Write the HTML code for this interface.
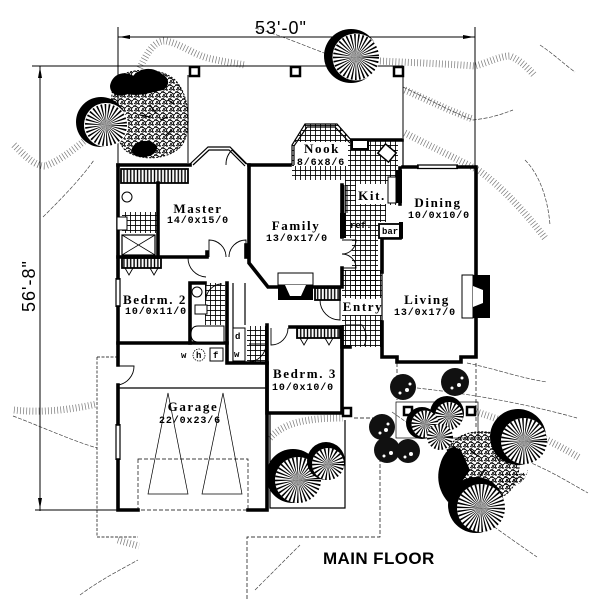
<!DOCTYPE html>
<html><head><meta charset="utf-8"><style>
html,body{margin:0;padding:0;background:#fff;}
svg{display:block;}
.n{font-family:"Liberation Serif",serif;font-weight:bold;font-size:13px;letter-spacing:1.6px;}
.d{font-family:"Liberation Mono",monospace;font-weight:bold;font-size:10px;letter-spacing:0.9px;}
.s{font-family:"Liberation Mono",monospace;font-weight:bold;font-size:9px;}
.big{font-family:"Liberation Sans",sans-serif;font-size:18px;letter-spacing:1px;}
</style></head><body>
<svg width="600" height="599" viewBox="0 0 600 599" xmlns="http://www.w3.org/2000/svg">
<defs>
<pattern id="tile" width="5" height="5" patternUnits="userSpaceOnUse">
<path d="M0 0.4H5M0.4 0V5" stroke="#000" stroke-width="0.9" fill="none"/>
</pattern>
<pattern id="cl" width="3.4" height="14" patternUnits="userSpaceOnUse">
<path d="M1.5 0V14" stroke="#000" stroke-width="1.4"/>
</pattern>
<pattern id="leaf" width="7" height="7" patternUnits="userSpaceOnUse">
<path d="M0 2 q2 -2 4 0 q2 2 3 0 M1 5 q2 2 4 0 M5 3 l1 3 M2 0 l1 2" stroke="#000" stroke-width="0.9" fill="none"/>
<circle cx="3" cy="4" r="1" fill="#000"/><circle cx="6" cy="6" r="0.9" fill="#000"/><circle cx="1" cy="1" r="0.7" fill="#000"/>
</pattern>
</defs>

<!-- landscape contours -->
<g fill="none">
<g stroke="#777" stroke-width="7" stroke-dasharray="0.7 2.4">
<path d="M140 68 C148 50 156 40 166 41 C182 44 195 56 212 59 C225 62 235 63 245 65"/>
<path d="M380 61 C420 63 450 64 475 66 C490 62 500 56 510 56 C520 60 528 68 535 76"/>
<path d="M405 133 C430 146 455 158 478 170 C500 185 525 212 545 238"/>
<path d="M14 145 C25 156 35 166 45 166 C62 160 78 146 100 128"/>
<path d="M14 410 C40 413 70 410 97 404"/>
<path d="M270 438 C282 425 300 418 343 418"/>
<path d="M470 410 C520 425 555 443 580 458"/>
<path d="M405 90 C430 101 452 112 473 119"/>
<path d="M118 540 C124 542 132 544 139 546"/>
</g>
<g stroke="#444" stroke-width="0.7" stroke-dasharray="4 1.5">
<path d="M255 28 C280 35 305 46 327 54"/>
<path d="M403 87 C430 100 452 112 473 120 C490 118 500 115 513 110"/>
<path d="M43 217 C60 200 80 180 94 160"/>
<path d="M13 416 C40 426 70 440 97 448"/>
<path d="M467 363 C500 370 520 378 547 382"/>
<path d="M417 388 C480 395 530 405 577 418"/>
<path d="M517 457 C550 470 570 483 588 493"/>
<path d="M485 520 C505 535 520 545 537 557"/>
<path d="M392 412 C420 432 440 445 458 457"/>
<path d="M80 595 C100 580 120 570 138 560"/>
<path d="M255 590 C275 570 285 560 300 545"/>
<path d="M525 160 C540 175 548 200 550 225"/>
<path d="M540 45 C555 55 565 65 575 72"/>
</g>
</g>

<!-- dimension lines -->
<g stroke="#000" stroke-width="1" fill="none">
<line x1="118" y1="37" x2="475" y2="37"/>
<line x1="118" y1="27" x2="118" y2="163"/>
<line x1="475" y1="27" x2="475" y2="166"/>
<line x1="32" y1="66" x2="403" y2="66"/>
<line x1="40" y1="66" x2="40" y2="511"/>
<line x1="35" y1="510" x2="118" y2="510"/>
<line x1="188" y1="75" x2="188" y2="163"/>
<line x1="403" y1="75" x2="403" y2="138"/>
</g>
<g fill="#000">
<path d="M119 37 L130 35 L130 39Z"/>
<path d="M474 37 L463 35 L463 39Z"/>
<path d="M40 67 L38 78 L42 78Z"/>
<path d="M40 509 L38 498 L42 498Z"/>
</g>
<text x="255" y="34" class="big">53'-0"</text>
<text transform="translate(35,312) rotate(-90)" class="big">56'-8"</text>

<!-- porch columns -->
<g fill="#fff" stroke="#000" stroke-width="2.5">
<rect x="190" y="67" width="9" height="9"/>
<rect x="291" y="67" width="9" height="9"/>
<rect x="394" y="67" width="9" height="9"/>
<rect x="343" y="408" width="8" height="8"/>
<rect x="404" y="407" width="8" height="8"/>
<rect x="467" y="407" width="8" height="8"/>
</g>

<!-- tile floors -->
<g fill="url(#tile)">
<polygon points="292,180 292,145 305,124 337,124 352,141 398,141 398,205 386,205 386,222 378,222 378,300 352,300 352,238 345,238 345,180"/>
<rect x="342" y="270" width="40" height="28"/>
<rect x="342" y="315" width="40" height="32"/>
<rect x="122" y="212" width="35" height="21"/>
<rect x="205" y="283" width="20" height="42"/>
<rect x="247" y="326" width="20" height="37"/>
</g>
<g fill="#fff">
<rect x="294" y="142" width="54" height="24"/>
<rect x="356" y="184" width="32" height="20"/>
<rect x="342" y="299" width="40" height="15"/>
</g>

<!-- closets -->
<g fill="url(#cl)" stroke="#000" stroke-width="1.8">
<rect x="121" y="169" width="67" height="14"/>
<rect x="122" y="258" width="39" height="10"/>
<rect x="297" y="328" width="43" height="10"/>
<rect x="315" y="288" width="25" height="12"/>
</g>
<g fill="none" stroke="#000" stroke-width="0.9">
<path d="M125 268 l4 7 l4 -7 M150 268 l4 7 l4 -7"/>
<path d="M300 338 l4 7 l4 -7 M325 338 l4 7 l4 -7"/>
</g>

<!-- walls -->
<g stroke="#000" stroke-width="3.6" fill="none" stroke-linecap="square">
<path d="M118 165 V278 M118 307 V365 M118 385 V424 M118 460 V510 H138"/>
<path d="M248 510 H267 V363"/>
<path d="M118 165 H190"/>
<path d="M249 165 V263 L268 287 H278"/>
<path d="M249 165 H290"/>
<path d="M352 140 H402"/>
<path d="M403 167 H417 M458 167 H476 V275 M476 318 V357 H461 V362 H397 V357 H382 V322"/>
<path d="M382 272 V238 H400"/>
<path d="M400 168 V204"/>
<path d="M342 185 V237 M342 268 V287 H313"/>
<path d="M342 327 V347 H350"/>
<path d="M267 325 V413 H342 V327 H290"/>
<path d="M118 257 H207 M207 257 V252"/>
<path d="M118 343 H227"/>
<path d="M227 283 V363 H267"/>
<path d="M190 283 V343 M190 283 H205"/>
<path d="M158 183 V257"/>
<path d="M246 257 V245"/>
</g>
<g stroke="#000" stroke-width="1.2" fill="none">
<path d="M382 272 V322"/>
<path d="M403 139 V167"/>
<path d="M118 388 H267"/>
<path d="M233 283 V363 M245 283 V325"/>
<path d="M292 165 V145 L305 124 L337 124 L352 141"/>
<path d="M294 165 V146 L307 127 L335 127 L350 143"/>
<path d="M190 164 L208 147 L230 147 L248 165"/>
<path d="M193 165 L209 150 L229 150 L245 166"/>
<path d="M417 165 H458 M417 168.5 H458"/>
<path d="M116 278 V307 M120 278 V307"/>
<path d="M116 424 V460 M120 424 V460"/>
<path d="M270 413 V508 H345 V420"/>
</g>
<!-- fireplaces -->
<rect x="278" y="273" width="35" height="12" fill="#fff" stroke="#000" stroke-width="1"/>
<rect x="278" y="285" width="35" height="15" fill="#000"/>
<polygon points="285,285 306,285 301,296 290,296" fill="#fff"/>
<rect x="462" y="275" width="11" height="43" fill="#fff" stroke="#000" stroke-width="1"/>
<rect x="473" y="275" width="17" height="43" fill="#000"/>
<polygon points="473,286 483,290 483,303 473,307" fill="#fff"/>

<!-- kitchen fixtures -->
<rect x="340" y="213" width="6" height="25" fill="#000"/>
<path d="M344 185 V213 M347 185 V213" stroke="#000" stroke-width="1"/>
<rect x="396" y="170" width="6" height="33" fill="#000"/>
<rect x="388" y="177" width="8" height="26" fill="#fff" stroke="#000" stroke-width="1"/>
<rect x="352" y="140" width="16" height="9" fill="#fff" stroke="#000" stroke-width="2"/>
<rect x="380" y="147" width="14" height="12" fill="#fff" stroke="#000" stroke-width="1.5" transform="rotate(40 387 153)"/>
<rect x="379" y="224" width="23" height="14" fill="#fff" stroke="#000" stroke-width="1.8"/>
<rect x="399" y="222" width="4" height="16" fill="#000"/>

<!-- bath fixtures -->
<circle cx="127" cy="197" r="5" fill="#fff" stroke="#000" stroke-width="1"/>
<rect x="122" y="235" width="33" height="20" fill="#fff" stroke="#000" stroke-width="1.2"/>
<path d="M122 235 L155 255 M155 235 L122 255" stroke="#000" stroke-width="0.8"/>
<rect x="117" y="217" width="10" height="13" fill="#fff" stroke="#000" stroke-width="1"/>
<circle cx="197" cy="292" r="5" fill="#fff" stroke="#000" stroke-width="1"/>
<rect x="195" y="305" width="12" height="9" fill="#fff" stroke="#000" stroke-width="1"/>
<path d="M224 326 H198 Q191 326 191 334 Q191 342 198 342 H224Z" fill="#fff" stroke="#000" stroke-width="1"/>
<rect x="233" y="328" width="12" height="33" fill="#fff" stroke="#000" stroke-width="1"/>
<text x="235" y="339" class="s">d</text>
<text x="234" y="357" class="s">w</text>
<text x="181" y="358" class="s">w</text>
<circle cx="199" cy="355" r="6" fill="#fff" stroke="#000" stroke-width="0.8" stroke-dasharray="1.5 1"/>
<text x="196" y="358" class="s">h</text>
<rect x="210" y="348" width="13" height="13" fill="#fff" stroke="#000" stroke-width="1"/>
<text x="213" y="358" class="s">f</text>

<!-- doors -->
<g fill="none" stroke="#000" stroke-width="0.9">
<path d="M246 164 L232 150 A20 20 0 0 0 226 165"/>
<path d="M209 257 V240 A17 17 0 0 1 226 257 M246 257 V240 A17 17 0 0 0 229 257"/>
<path d="M207 258 H188 A19 19 0 0 0 206 277"/>
<path d="M206 284 V300 A16 16 0 0 1 222 284"/>
<path d="M342 240 H356 A14 14 0 0 1 342 254 M342 268 H356 A14 14 0 0 0 342 254"/>
<path d="M340 300 V320 A20 20 0 0 1 320 300"/>
<path d="M271 328 V345 A17 17 0 0 0 288 328"/>
<path d="M346 325 H362 A20 20 0 0 1 364 346"/>
<path d="M249 344 H266 A18 18 0 0 1 248 362"/>
<path d="M118 366 H134 A19 19 0 0 1 118 385"/>
</g>

<!-- garage -->
<g fill="none" stroke="#000" stroke-width="0.7">
<rect x="138" y="459" width="110" height="51" stroke-dasharray="4 2"/>
<path d="M168 393 L148 494 H188Z M223 393 L202 494 H242Z"/>
<path d="M97 357 H118 M97 357 V537 H138" stroke-dasharray="3 1.5"/>
<path d="M247 599 V537 H380 V418 H352" stroke-dasharray="4 2"/>
<path d="M397 363 V400 M476 363 V427" stroke-dasharray="4 2"/>
<rect x="396" y="402" width="82" height="36"/>
</g>

<!-- trees -->
<!-- top-left bush -->
<path d="M115 80 C125 68 160 66 175 80 C190 95 192 130 182 145 C170 160 140 162 125 150 C112 135 108 100 115 80Z" fill="url(#leaf)" stroke="#000" stroke-width="1" stroke-dasharray="2 1.5"/>
<path d="M110 86 C112 74 124 70 133 76 C140 68 152 66 162 74 C170 78 170 86 163 90 C152 92 140 97 128 94 C118 98 110 94 110 86Z" fill="#000"/>
<path d="M132 148 C136 140 150 138 157 146 C158 154 148 158 140 157 C134 156 131 153 132 148Z" fill="#000"/>
<path d="M168 100 l6 4 M160 120 l8 -3 M150 105 l6 8 M172 130 l-6 5 M140 115 l10 2" stroke="#000" stroke-width="1.2"/>
<circle cx="101" cy="122" r="25" fill="#000"/>
<circle cx="106" cy="125" r="22" fill="#fff"/>
<circle cx="106" cy="125" r="10.5" fill="none" stroke="#000" stroke-width="21" stroke-dasharray="0.9 1.3"/>
<!-- top centre tree -->
<circle cx="351" cy="56" r="27" fill="#000"/>
<circle cx="356" cy="57" r="23.5" fill="#fff"/>
<circle cx="356" cy="57" r="11.5" fill="none" stroke="#000" stroke-width="23" stroke-dasharray="0.9 1.3"/>
<!-- bedroom 3 planter trees -->
<circle cx="293" cy="476" r="27" fill="#000"/>
<circle cx="298" cy="480" r="23" fill="#fff"/>
<circle cx="298" cy="480" r="11.5" fill="none" stroke="#000" stroke-width="23" stroke-dasharray="0.9 1.3"/>
<circle cx="326" cy="461" r="19" fill="#000"/>
<circle cx="328" cy="464" r="16" fill="#fff"/>
<circle cx="328" cy="464" r="8" fill="none" stroke="#000" stroke-width="16" stroke-dasharray="0.9 1.3"/>
<!-- dark shrubs -->
<g fill="#111">
<circle cx="403" cy="387" r="13"/>
<circle cx="455" cy="382" r="14"/>
<circle cx="382" cy="427" r="13"/>
<circle cx="387" cy="450" r="13"/>
<circle cx="408" cy="451" r="12"/>
</g>
<g fill="#fff">
<circle cx="407" cy="390" r="2"/><circle cx="400" cy="393" r="1.5"/><circle cx="410" cy="384" r="1.5"/>
<circle cx="459" cy="385" r="2"/><circle cx="452" cy="388" r="1.5"/><circle cx="462" cy="378" r="1.5"/>
<circle cx="386" cy="430" r="2"/><circle cx="380" cy="433" r="1.5"/><circle cx="388" cy="424" r="1.5"/>
<circle cx="391" cy="453" r="2"/><circle cx="384" cy="456" r="1.5"/><circle cx="411" cy="454" r="2"/><circle cx="405" cy="457" r="1.5"/>
</g>
<!-- porch spoke trees -->
<circle cx="447" cy="413" r="17" fill="#000"/>
<circle cx="422" cy="423" r="16" fill="#000"/>
<circle cx="449" cy="416" r="14" fill="#fff"/>
<circle cx="449" cy="416" r="7" fill="none" stroke="#000" stroke-width="14" stroke-dasharray="0.9 1.2"/>
<circle cx="425" cy="424" r="13.5" fill="#fff"/>
<circle cx="425" cy="424" r="6.7" fill="none" stroke="#000" stroke-width="13.5" stroke-dasharray="0.9 1.2"/>
<circle cx="440" cy="437" r="13" fill="#fff"/>
<circle cx="440" cy="437" r="6.5" fill="none" stroke="#000" stroke-width="13" stroke-dasharray="0.9 1.2"/>
<!-- big cluster -->
<path d="M445 455 C436 468 435 487 448 502 L470 470 L460 448Z" fill="#000"/>
<path d="M455 440 C470 428 495 430 510 440 C525 455 520 485 505 495 C485 505 455 498 445 480 C440 465 445 450 455 440Z" fill="url(#leaf)" stroke="#000" stroke-width="1" stroke-dasharray="2 1.5"/>
<path d="M455 446 C445 450 438 462 440 475 C444 468 452 460 462 456Z" fill="#000"/>
<path d="M470 450 l8 6 M485 470 l-6 8 M495 455 l5 7 M465 480 l10 -2" stroke="#000" stroke-width="1.2"/>
<circle cx="518" cy="437" r="28" fill="#000"/>
<circle cx="524" cy="441" r="23" fill="#fff"/>
<circle cx="524" cy="441" r="11.5" fill="none" stroke="#000" stroke-width="23" stroke-dasharray="0.9 1.3"/>
<circle cx="476" cy="505" r="28" fill="#000"/>
<circle cx="481" cy="508" r="24" fill="#fff"/>
<circle cx="481" cy="508" r="12" fill="none" stroke="#000" stroke-width="24" stroke-dasharray="0.9 1.3"/>
<path d="M500 475 C510 470 520 478 528 470 C525 485 510 490 500 485Z" fill="url(#leaf)"/>

<!-- room labels -->
<g text-anchor="middle">
<text x="198" y="213" class="n">Master</text>
<text x="198" y="223" class="d">14/0x15/0</text>
<text x="296" y="230" class="n">Family</text>
<text x="297" y="241" class="d">13/0x17/0</text>
<text x="322" y="153" class="n">Nook</text>
<text x="321" y="165" class="d">8/6x8/6</text>
<text x="372" y="200" class="n">Kit.</text>
<text x="438" y="207" class="n">Dining</text>
<text x="439" y="218" class="d">10/0x10/0</text>
<text x="427" y="304" class="n">Living</text>
<text x="425" y="315" class="d">13/0x17/0</text>
<text x="363" y="311" class="n">Entry</text>
<text x="305" y="378" class="n">Bedrm. 3</text>
<text x="303" y="390" class="d">10/0x10/0</text>
<text x="155" y="304" class="n">Bedrm. 2</text>
<text x="156" y="314" class="d">10/0x11/0</text>
<text x="193" y="411" class="n">Garage</text>
<text x="190" y="423" class="d">22/0x23/6</text>
</g>
<text x="350" y="228" class="s">ref.</text>
<text x="382" y="234" class="s">bar</text>
<text x="323" y="564" class="big" style="font-weight:bold;font-size:17px;letter-spacing:0.4px">MAIN FLOOR</text>
</svg>
</body></html>
